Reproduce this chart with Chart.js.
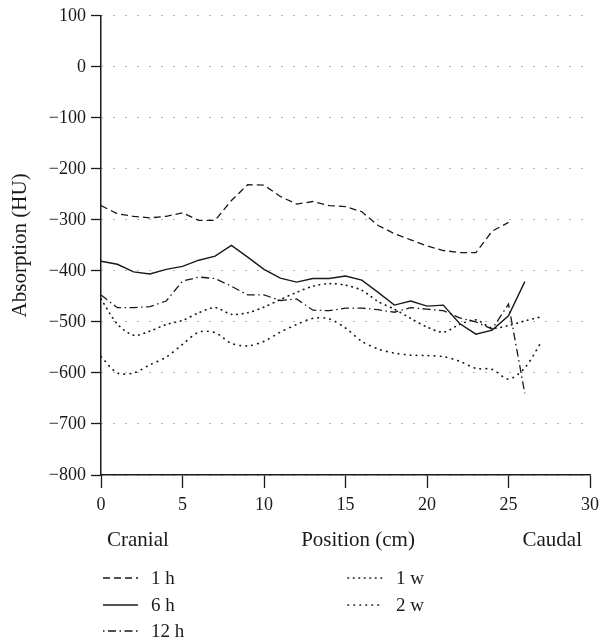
<!DOCTYPE html>
<html>
<head>
<meta charset="utf-8">
<script src="https://cdn.jsdelivr.net/npm/chart.js@4.4.1/dist/chart.umd.min.js"></script>
<style>
    html, body { margin: 0; padding: 0; background: #fff; }
    canvas { display: block; }
</style>
</head>
<body>
<canvas id="absorptionChart" width="605" height="644"></canvas>
<script>
'use strict';
// ===================== data =====================
const positions = [0, 1, 2, 3, 4, 5, 6, 7, 8, 9, 10, 11, 12, 13, 14, 15, 16, 17, 18, 19, 20, 21, 22, 23, 24, 25, 26, 27];
const seriesLabels = ['1 h', '6 h', '12 h', '1 w', '2 w'];

const hu1h  = [-272, -288, -293, -296, -293, -286, -301, -301, -262, -231, -232, -254, -269, -264, -272, -274, -284, -311, -327, -339, -351, -360, -364, -364, -322, -305];
const hu6h  = [-381, -387, -402, -406, -397, -391, -379, -371, -350, -373, -397, -414, -422, -415, -415, -410, -418, -442, -467, -459, -469, -467, -503, -524, -516, -488, -421];
const hu12h = [-447, -472, -472, -470, -459, -420, -412, -415, -430, -447, -447, -458, -455, -477, -478, -473, -473, -476, -481, -472, -475, -478, -492, -500, -514, -465, -640];
const hu1w  = [-455, -504, -526, -518, -505, -497, -482, -472, -485, -482, -471, -456, -442, -430, -425, -428, -438, -460, -475, -493, -510, -520, -505, -496, -512, -507, -498, -490];
const hu2w  = [-568, -600, -600, -584, -569, -544, -520, -521, -542, -547, -538, -520, -505, -493, -494, -512, -538, -553, -561, -565, -566, -568, -577, -591, -593, -612, -590, -540];

const xTickStep = 5;
const yTickStep = 100;

// ===================== styles =====================
const INK = '#1a1a1a';
const SERIF = '"Liberation Serif", "Times New Roman", serif';

const lineStyles = [
    { dash: [7, 4],             width: 1.3, cap: 'butt',  tension: 0,   keyOffset: 0 },
    { dash: [],                 width: 1.4, cap: 'butt',  tension: 0,   keyOffset: 0 },
    { dash: [8, 3.5, 1.5, 3.5], width: 1.3, cap: 'butt',  tension: 0,   keyOffset: 11.5 },
    { dash: [0.5, 5],           width: 1.7, cap: 'round', tension: 0.3, keyOffset: 0 },
    { dash: [0.5, 5.5],         width: 1.7, cap: 'round', tension: 0.3, keyOffset: 0 },
];

const allSeries = [hu1h, hu6h, hu12h, hu1w, hu2w];

const datasets = allSeries.map((values, i) => ({
    label: seriesLabels[i],
    data: values.map((v, k) => ({ x: positions[k], y: v })),
    borderColor: INK,
    borderWidth: lineStyles[i].width,
    borderDash: lineStyles[i].dash,
    borderCapStyle: lineStyles[i].cap,
    tension: lineStyles[i].tension,
    pointRadius: 0,
    fill: false,
}));

function fmtTick(v) {
    return v < 0 ? '\u2212' + Math.abs(v) : String(v);
}

// 轴下方文字 + 图例
const bottomTextPlugin = {
    id: 'bottomText',
    afterDraw(chart) {
        const { ctx, chartArea } = chart;
        ctx.save();
        ctx.fillStyle = INK;
        ctx.textBaseline = 'middle';
        ctx.font = '21px ' + SERIF;
        ctx.textAlign = 'left';
        ctx.fillText('Cranial', chartArea.left + 6, 540);
        ctx.textAlign = 'center';
        ctx.fillText('Position (cm)', 358, 540);
        ctx.textAlign = 'right';
        ctx.fillText('Caudal', 582, 540);

        const slots = [[103, 578], [103, 605], [103, 631], [348, 578], [348, 605]];
        chart.data.datasets.forEach((ds, i) => {
            const [lx, ly] = slots[i];
            ctx.beginPath();
            ctx.setLineDash(ds.borderDash);
            ctx.lineDashOffset = lineStyles[i].keyOffset;
            ctx.lineWidth = ds.borderWidth;
            ctx.lineCap = ds.borderCapStyle;
            ctx.strokeStyle = ds.borderColor;
            ctx.moveTo(lx, ly);
            ctx.lineTo(lx + 35, ly);
            ctx.stroke();
            ctx.setLineDash([]);
            ctx.lineDashOffset = 0;
            ctx.font = '19px ' + SERIF;
            ctx.textAlign = 'left';
            ctx.fillText(ds.label, lx + 48, ly + 1);
        });
        ctx.restore();
    }
};

const ctx = document.getElementById('absorptionChart').getContext('2d');
new Chart(ctx, {
    type: 'line',
    data: { datasets },
    options: {
        responsive: false,
        animation: false,
        layout: { padding: { left: 0, right: 14, top: 14, bottom: 119 } },
        plugins: {
            legend: { display: false },
            tooltip: { enabled: false },
        },
        scales: {
            x: {
                type: 'linear',
                min: 0,
                max: 30,
                ticks: {
                    stepSize: xTickStep,
                    color: INK,
                    font: { family: SERIF, size: 18 },
                    padding: 6,
                    maxRotation: 0,
                },
                grid: { drawOnChartArea: false, tickLength: 13, tickColor: INK, tickWidth: 1.3 },
                border: { color: INK, width: 1.5 },
                afterFit: s => { s.height = 50; },
            },
            y: {
                type: 'linear',
                min: -800,
                max: 100,
                ticks: {
                    stepSize: yTickStep,
                    color: INK,
                    font: { family: SERIF, size: 18 },
                    padding: 5,
                    callback: fmtTick,
                },
                grid: { color: '#666', lineWidth: 1, tickLength: 10, tickColor: INK, tickWidth: 1.3 },
                border: { color: INK, width: 1.5, dash: [1, 11] },
                title: {
                    display: true,
                    text: 'Absorption (HU)',
                    color: INK,
                    font: { family: SERIF, size: 21 },
                    padding: { top: 8, bottom: 0 },
                },
                afterFit: s => { s.width = 101; },
            },
        },
    },
    plugins: [bottomTextPlugin],
});
</script>
</body>
</html>
